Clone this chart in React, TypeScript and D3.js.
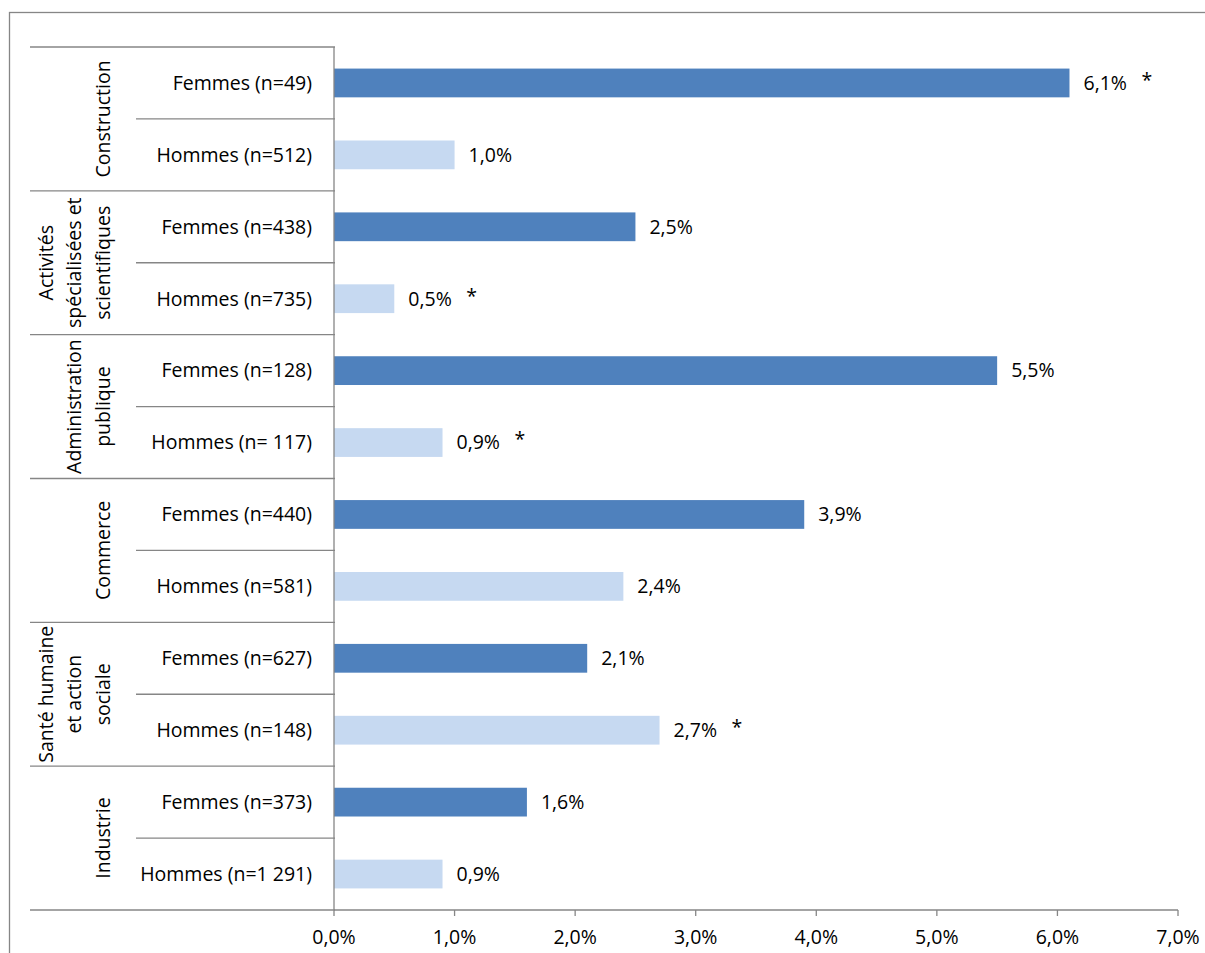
import React from "react";
import * as d3 from "d3";

const groups = [
  ["Construction"],
  ["Activités", "spécialisées et", "scientifiques"],
  ["Administration", "publique"],
  ["Commerce"],
  ["Santé humaine", "et action", "sociale"],
  ["Industrie"],
];
const rowLabels = [
  "Femmes (n=49)", "Hommes (n=512)",
  "Femmes (n=438)", "Hommes (n=735)",
  "Femmes (n=128)", "Hommes (n= 117)",
  "Femmes (n=440)", "Hommes (n=581)",
  "Femmes (n=627)", "Hommes (n=148)",
  "Femmes (n=373)", "Hommes (n=1 291)",
];
const values = [6.1, 1.0, 2.5, 0.5, 5.5, 0.9, 3.9, 2.4, 2.1, 2.7, 1.6, 0.9];
const stars = [true, false, false, true, false, true, false, false, false, true, false, false];
const xTicks = [0, 1, 2, 3, 4, 5, 6, 7];

const FONT = "'Open Sans', sans-serif";
const FS = 19.5;
const LINE = "#868686";

export default function App() {
  const W = 1205, H = 953;
  const x0 = 334, x1 = 1178, yTop = 47, yBot = 910;
  const x = d3.scaleLinear().domain([0, 7]).range([x0, x1]);
  const y = d3.scaleBand<number>().domain(d3.range(rowLabels.length)).range([yTop, yBot]);
  const bh = y.bandwidth() * 0.4;
  const fmt = (v: number) => v.toFixed(1).replace(".", ",") + "%";
  return (
    <svg width={W} height={H} style={{ position: "absolute", left: 0, top: 0 }} fontFamily={FONT}>
      <rect x={0} y={0} width={W} height={H} fill="#fff" />
      <rect x={9.5} y={12.5} width={1400} height={1200} fill="none" stroke={LINE} strokeWidth={1.3} />
      {values.map((v, i) => (
        <rect key={"b" + i} x={x(0)} y={y(i)! + (y.bandwidth() - bh) / 2} width={x(v) - x(0)} height={bh}
          fill={i % 2 === 0 ? "#4F81BD" : "#C6D9F1"} />
      ))}
      {values.map((v, i) => {
        const cy = y(i)! + y.bandwidth() / 2;
        const lx = x(v) + 14;
        return (
          <g key={"v" + i}>
            <text x={lx} y={cy} dy="0.35em" fontSize={FS} fill="#000">{fmt(v)}</text>
            {stars[i] && (
              <text x={lx + 58} y={cy - 3} dy="0.35em" fontSize={FS} fill="#000">*</text>
            )}
          </g>
        );
      })}
      <line x1={x0} x2={x0} y1={yTop} y2={yBot} stroke={LINE} strokeWidth={1.3} />
      {d3.range(rowLabels.length + 1).map((k) => {
        const yy = k < rowLabels.length ? y(k)! : yBot;
        const outer = k % 2 === 0;
        return (
          <line key={"s" + k} x1={outer ? 30 : 136} x2={x0 + 1} y1={yy} y2={yy} stroke={LINE} strokeWidth={1.3} />
        );
      })}
      {rowLabels.map((l, i) => (
        <text key={"r" + i} x={312} y={y(i)! + y.bandwidth() / 2} dy="0.35em" textAnchor="end" fontSize={FS} fill="#000">{l}</text>
      ))}
      {groups.map((g, gi) => {
        const cy = y(gi * 2)! + y.bandwidth();
        const n = g.length;
        return g.map((line, li) => {
          const cx = 103 - (n - 1 - li) * 28.5;
          return (
            <text key={"g" + gi + "-" + li} transform={`translate(${cx},${cy}) rotate(-90)`} textAnchor="middle" dy="0.35em" fontSize={FS} fill="#000">{line}</text>
          );
        });
      })}
      <line x1={x0} x2={x1} y1={yBot} y2={yBot} stroke={LINE} strokeWidth={1.3} />
      {xTicks.map((t) => (
        <g key={"t" + t}>
          <line x1={x(t)} x2={x(t)} y1={yBot} y2={yBot + 6} stroke={LINE} strokeWidth={1.3} />
          <text x={x(t)} y={937} dy="0.35em" textAnchor="middle" fontSize={FS} fill="#000">{fmt(t)}</text>
        </g>
      ))}
    </svg>
  );
}
